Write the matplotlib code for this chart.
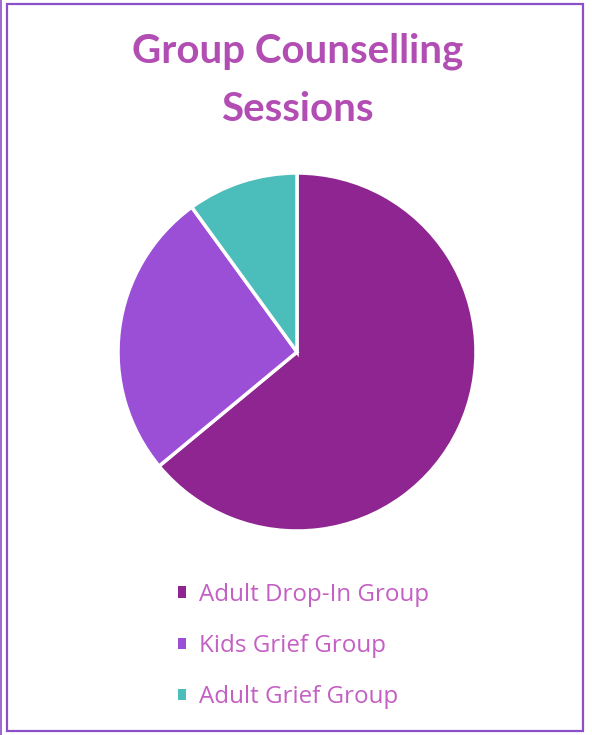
import matplotlib.pyplot as plt
from matplotlib.patches import Rectangle

# -- Data ---------------------------------------------------------------------
GROUPS = ["Adult Drop-In Group", "Kids Grief Group", "Adult Grief Group"]
SESSIONS = [64, 26, 10]

COLORS = ["#8E2590", "#9B4FD6", "#4BBDBB"]
TITLE_COLOR = "#B24DB3"
TEXT_COLOR = "#C45FC3"
BORDER_COLOR = "#8B4FC8"

plt.rcParams["font.family"] = ["Lato", "DejaVu Sans"]

W, H = 592, 735
fig = plt.figure(figsize=(W / 100, H / 100), dpi=100)
fig.patch.set_facecolor("white")

# outer border
fig.patches.append(Rectangle((7 / W, 4 / H), 576 / W, 727 / H,
                             transform=fig.transFigure, fill=False,
                             edgecolor=BORDER_COLOR, linewidth=1.6))
fig.patches.append(Rectangle((1 / W, 0), 0, 1, transform=fig.transFigure,
                             fill=False, edgecolor=BORDER_COLOR, linewidth=1.2))

fig.text(0.503, 1 - 63 / H, "Group Counselling", ha="center", va="baseline",
         fontsize=29, fontweight="bold", color=TITLE_COLOR)
fig.text(0.503, 1 - 121 / H, "Sessions", ha="center", va="baseline",
         fontsize=29, fontweight="bold", color=TITLE_COLOR)

# pie axes: centre (297, 352), radius ~179 px
cx, cy, r = 297, 352, 179
ax = fig.add_axes([(cx - r) / W, 1 - (cy + r) / H, 2 * r / W, 2 * r / H])
wedges, _ = ax.pie(SESSIONS, colors=COLORS, startangle=90, counterclock=False,
                   wedgeprops={"edgecolor": "white", "linewidth": 2.5},
                   radius=1.0)
ax.set_xlim(-1, 1)
ax.set_ylim(-1, 1)
ax.set_aspect("equal")
ax.axis("off")

leg = fig.legend(wedges, GROUPS, loc="upper left",
                 bbox_to_anchor=(156 / W, 1 - 561 / H), frameon=False,
                 prop={"family": ["Open Sans", "DejaVu Sans"], "size": 17.4},
                 labelspacing=1.12, handlelength=0.34, handleheight=0.34,
                 handletextpad=0.55, labelcolor=TEXT_COLOR)
for h in leg.legend_handles:
    h.set_edgecolor("none")

fig.savefig("out.png", dpi=100, facecolor="white")
